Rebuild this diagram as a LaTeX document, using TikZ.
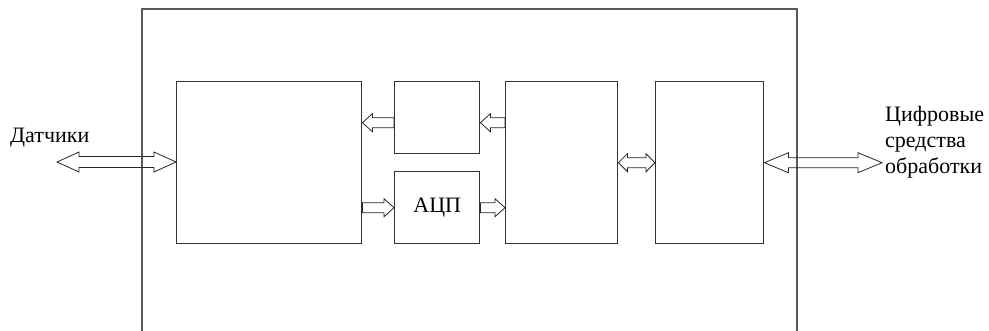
\documentclass[tikz,border=0pt]{standalone}
\usepackage{fontspec}
\setmainfont{Liberation Serif}
\usetikzlibrary{calc}
\tikzset{
  box/.style={draw=black!80, line width=1.4pt, inner sep=0pt, anchor=north west},
  frameline/.style={draw=black!65, line width=1.8pt},
  blk/.style={draw=black!85, line width=0.8pt, line join=miter},
  dbl/.style n args={3}{to path={let \p1=(\tikztostart), \p2=(\tikztotarget) in
     (\x1,\y1) -- (\x1+#1,\y1+#2) -- (\x1+#1,\y1+#3) -- (\x2-#1,\y1+#3) -- (\x2-#1,\y1+#2)
     -- (\x2,\y1) -- (\x2-#1,\y1-#2) -- (\x2-#1,\y1-#3) -- (\x1+#1,\y1-#3) -- (\x1+#1,\y1-#2) -- cycle}},
  sgl/.style n args={3}{to path={let \p1=(\tikztostart), \p2=(\tikztotarget), \n1={sign(\x2-\x1)} in
     (\x1,\y1+#3) -- ({\x2-\n1*#1},\y1+#3) -- ({\x2-\n1*#1},\y1+#2) -- (\x2,\y1)
     -- ({\x2-\n1*#1},\y1-#2) -- ({\x2-\n1*#1},\y1-#3) -- (\x1,\y1-#3) -- cycle}},
  lbl/.style={inner sep=0pt, font=\fontsize{22}{26}\selectfont}
}
\begin{document}
\begin{tikzpicture}[x=1pt,y=-1pt]
\useasboundingbox (0,0) rectangle (989,330);
% outer frame (open at bottom)
\draw[frameline] (142,332) -- (142,9) -- (797,9) -- (797,332);
% blocks
\node[box, minimum width=185pt, minimum height=162pt] (A) at (176,81) {};
\node[box, minimum width=85pt, minimum height=72pt] (B) at (394,81) {};
\node[box, minimum width=85pt, minimum height=72pt, font=\fontsize{22}{26}\selectfont] (ADC) at (394,171) {АЦП};
\node[box, minimum width=112pt, minimum height=162pt] (C) at (505,81) {};
\node[box, minimum width=108pt, minimum height=162pt] (D) at (655,81) {};
% free ends
\coordinate (dl) at (57,162);
\coordinate (dr) at (882,162);
\path ([yshift=-5pt]B.west) coordinate (b1);
% arrows
\draw[blk] (dl) to[dbl={22pt}{10pt}{5.5pt}] (A.west);
\draw[blk] (b1) to[sgl={10pt}{9pt}{5pt}] (A.east|-b1);
\draw[blk] (C.west|-b1) to[sgl={10pt}{9pt}{5pt}] (B.east|-b1);
\draw[blk] (A.east|-ADC.west) to[sgl={10pt}{9pt}{5pt}] (ADC.west);
\draw[blk] (ADC.east) to[sgl={10pt}{9pt}{5pt}] (C.west|-ADC.east);
\draw[blk] (C.east) to[dbl={9pt}{9pt}{5pt}] (D.west);
\draw[blk] (D.east) to[dbl={24pt}{10pt}{5pt}] (dr);
% labels
\node[lbl, anchor=base west] (ldat) at (10,142) {Датчики};
\node[lbl, anchor=north west, align=left] (lcif) at (885,106) {Цифровые\\средства\\обработки};
\end{tikzpicture}
\end{document}
